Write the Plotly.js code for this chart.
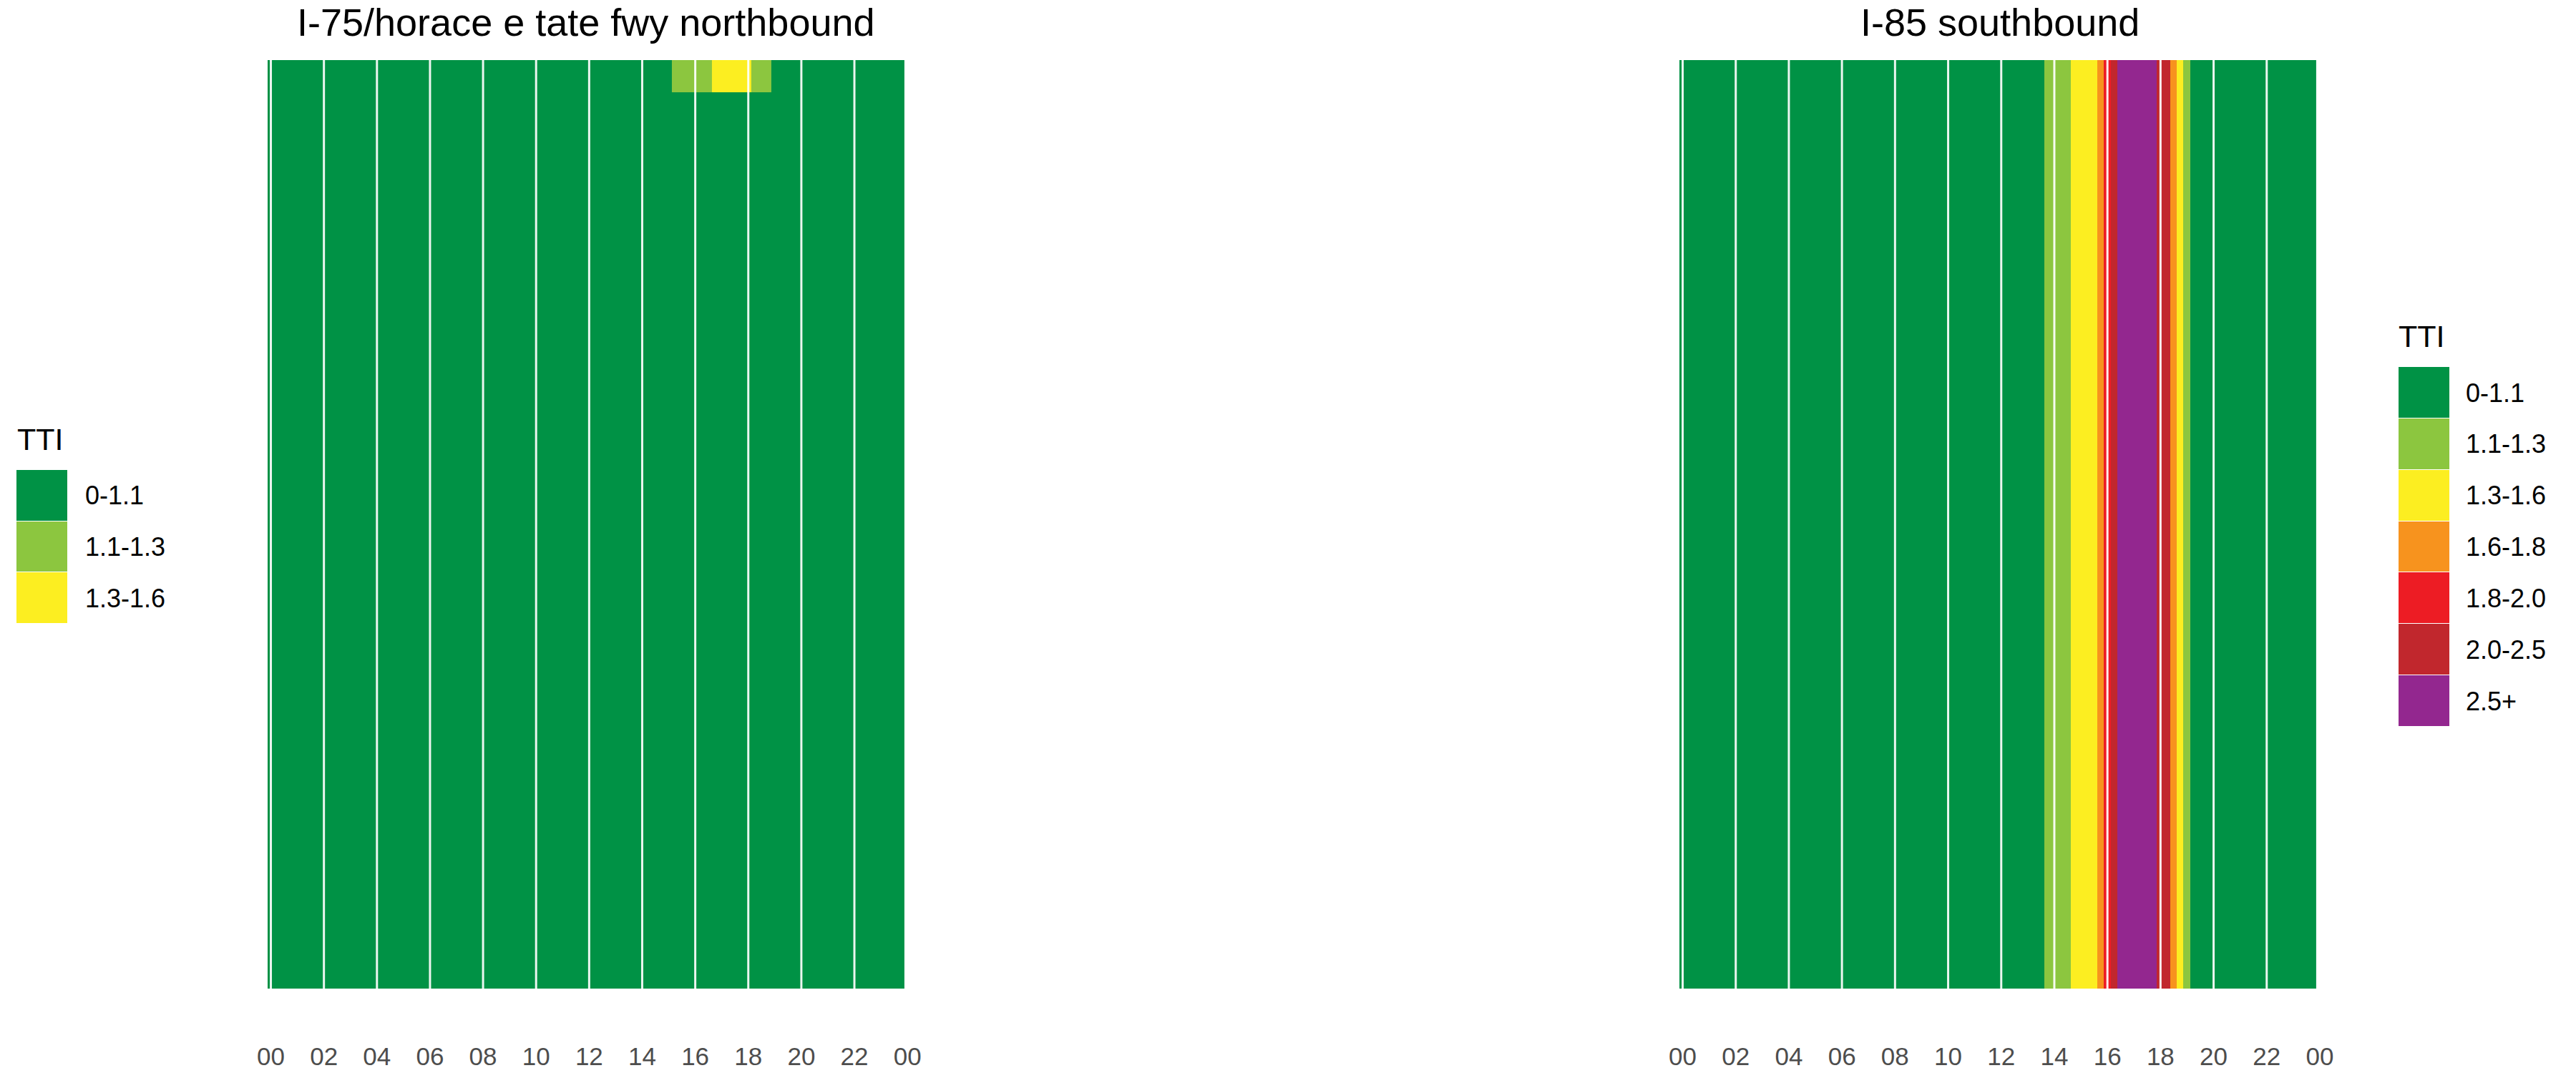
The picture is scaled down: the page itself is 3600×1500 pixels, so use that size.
<!DOCTYPE html>
<html>
<head>
<meta charset="utf-8">
<script src="https://cdn.plot.ly/plotly-3.0.1.min.js"></script>
<style>html,body{margin:0;padding:0;background:#fff;}#chart{width:3600px;height:1500px;}</style>
</head>
<body>
<div id="chart"></div>
<script>
// ---------- DATA ----------
const panelTitles = ["I-75/horace e tate fwy northbound", "I-85 southbound"];
const legendTitle = "TTI";
const levelLabels = ["0-1.1", "1.1-1.3", "1.3-1.6", "1.6-1.8", "1.8-2.0", "2.0-2.5", "2.5+"];
const levelColors = ["#009245", "#8CC63F", "#FCEE21", "#F7931E", "#ED1C24", "#C1272D", "#93278F"];

// 15-minute time bins (tile centres)
const timeBins = [
 "00:00","00:15","00:30","00:45","01:00","01:15","01:30","01:45",
 "02:00","02:15","02:30","02:45","03:00","03:15","03:30","03:45",
 "04:00","04:15","04:30","04:45","05:00","05:15","05:30","05:45",
 "06:00","06:15","06:30","06:45","07:00","07:15","07:30","07:45",
 "08:00","08:15","08:30","08:45","09:00","09:15","09:30","09:45",
 "10:00","10:15","10:30","10:45","11:00","11:15","11:30","11:45",
 "12:00","12:15","12:30","12:45","13:00","13:15","13:30","13:45",
 "14:00","14:15","14:30","14:45","15:00","15:15","15:30","15:45",
 "16:00","16:15","16:30","16:45","17:00","17:15","17:30","17:45",
 "18:00","18:15","18:30","18:45","19:00","19:15","19:30","19:45",
 "20:00","20:15","20:30","20:45","21:00","21:15","21:30","21:45",
 "22:00","22:15","22:30","22:45","23:00","23:15","23:30","23:45"
];

// Tick labels along the time axis
const tickHours  = [0, 2, 4, 6, 8, 10, 12, 14, 16, 18, 20, 22, 24];
const tickLabels = ["00","02","04","06","08","10","12","14","16","18","20","22","00"];

// TTI level index per time bin (index into levelLabels)
// I-75 northbound: segment rows (edges) – lower block and top segment
const nbRowEdges = [0, 28, 29];
const nbLowerRows = [
 0,0,0,0, 0,0,0,0, 0,0,0,0, 0,0,0,0, 0,0,0,0, 0,0,0,0,
 0,0,0,0, 0,0,0,0, 0,0,0,0, 0,0,0,0, 0,0,0,0, 0,0,0,0,
 0,0,0,0, 0,0,0,0, 0,0,0,0, 0,0,0,0, 0,0,0,0, 0,0,0,0,
 0,0,0,0, 0,0,0,0, 0,0,0,0, 0,0,0,0, 0,0,0,0, 0,0,0,0
];
const nbTopRow = [
 0,0,0,0, 0,0,0,0, 0,0,0,0, 0,0,0,0, 0,0,0,0, 0,0,0,0,
 0,0,0,0, 0,0,0,0, 0,0,0,0, 0,0,0,0, 0,0,0,0, 0,0,0,0,
 0,0,0,0, 0,0,0,0, 0,0,0,0, 0,1,1,1, 1,1,1,2, 2,2,2,2,
 2,1,1,1, 0,0,0,0, 0,0,0,0, 0,0,0,0, 0,0,0,0, 0,0,0,0
];
// I-85 southbound: single row
const sbRowEdges = [0, 1];
const sbRow = [
 0,0,0,0, 0,0,0,0, 0,0,0,0, 0,0,0,0, 0,0,0,0, 0,0,0,0,
 0,0,0,0, 0,0,0,0, 0,0,0,0, 0,0,0,0, 0,0,0,0, 0,0,0,0,
 0,0,0,0, 0,0,0,1, 1,1,1,2, 2,2,2,3, 4,5,6,6, 6,6,6,6,
 5,5,3,2, 1,0,0,0, 0,0,0,0, 0,0,0,0, 0,0,0,0, 0,0,0,0
];

// ---------- BUILD ----------
const hours = timeBins.map(t => { const p = t.split(":"); return +p[0] + (+p[1]) / 60; });
const nLev = levelColors.length;
const colorscale = [];
levelColors.forEach((c, i) => { colorscale.push([i / nLev, c]); colorscale.push([(i + 1) / nLev, c]); });

const FONT = "Liberation Sans, Arial, Helvetica, sans-serif";

const base = { type: "heatmap", colorscale: colorscale, zmin: -0.5, zmax: nLev - 0.5,
  showscale: false, hoverinfo: "skip", zsmooth: false };

const traces = [
  Object.assign({}, base, { x: hours, y: nbRowEdges, z: [nbLowerRows, nbTopRow], xaxis: "x", yaxis: "y" }),
  Object.assign({}, base, { x: hours, y: sbRowEdges, z: [sbRow], xaxis: "x2", yaxis: "y2" })
];

// legends as key heatmaps (levels present in each panel)
function present(rows) { const s = new Set(); rows.forEach(r => r.forEach(v => s.add(v))); return [...s].sort((a, b) => a - b); }
const nbLevels = present([nbLowerRows, nbTopRow]);
const sbLevels = present([sbRow]);
traces.push(Object.assign({}, base, { x: [0], y: nbLevels.map(l => levelLabels[l]), z: nbLevels.map(l => [l]), ygap: 1, xaxis: "x3", yaxis: "y3" }));
traces.push(Object.assign({}, base, { x: [0], y: sbLevels.map(l => levelLabels[l]), z: sbLevels.map(l => [l]), ygap: 1, xaxis: "x4", yaxis: "y4" }));

const W = 3600, H = 1500;
const px = (a, b) => [a / W, b / W];
const py = (top, bottom) => [(H - bottom) / H, (H - top) / H];

const timeAxis = (dom, anchor) => ({
  domain: dom, anchor: anchor, range: [-0.125, 24.02], tickmode: "array", tickvals: tickHours, ticktext: tickLabels,
  showgrid: false, zeroline: false, showline: false, ticks: "", ticklabelstandoff: 71,
  tickfont: { family: FONT, size: 35, color: "#4D4D4D" }, fixedrange: true
});
const hidden = (dom, anchor, extra) => Object.assign({ domain: dom, anchor: anchor, showgrid: false, zeroline: false,
  showline: false, showticklabels: false, ticks: "", fixedrange: true }, extra || {});
const keyAxis = (dom, anchor, labels, standoff) => ({
  domain: dom, anchor: anchor, type: "category", categoryorder: "array", categoryarray: labels, autorange: "reversed",
  side: "right", showgrid: false, zeroline: false, showline: false, ticks: "", ticklabelstandoff: standoff,
  tickfont: { family: FONT, size: 36, color: "#000000" }, fixedrange: true
});

const plotY = py(84, 1382);
const titleFont = { family: FONT, size: 54, color: "#000000" };
const layout = {
  width: W, height: H, margin: { l: 0, r: 0, t: 0, b: 0 },
  paper_bgcolor: "#ffffff", plot_bgcolor: "#ffffff", showlegend: false,
  font: { family: FONT },
  xaxis: timeAxis(px(373.9, 1268.9), "y"),
  yaxis: hidden(plotY, "x", { range: [0, 29] }),
  xaxis2: timeAxis(px(2346.9, 3242.7), "y2"),
  yaxis2: hidden(plotY, "x2", { range: [0, 1] }),
  xaxis3: hidden(px(23, 94), "y3", { range: [-0.5, 0.5] }),
  yaxis3: keyAxis(py(657, 872), "x3", nbLevels.map(l => levelLabels[l]), 24),
  xaxis4: hidden(px(3352, 3423), "y4", { range: [-0.5, 0.5] }),
  yaxis4: keyAxis(py(513, 1016), "x4", sbLevels.map(l => levelLabels[l]), 22),
  shapes: [],
  annotations: [
    { text: panelTitles[0], xref: "x domain", yref: "paper", x: 0.497, y: 1, xanchor: "center", yanchor: "top",
      borderpad: 0, showarrow: false, font: titleFont },
    { text: panelTitles[1], xref: "x2 domain", yref: "paper", x: 0.5, y: 1, xanchor: "center", yanchor: "top",
      borderpad: 0, showarrow: false, font: titleFont },
    { text: legendTitle, xref: "paper", yref: "paper", x: 22 / W, y: (H - 614) / H, xanchor: "left", yanchor: "middle",
      showarrow: false, font: { family: FONT, size: 43, color: "#000000" } },
    { text: legendTitle, xref: "paper", yref: "paper", x: 3350 / W, y: (H - 470) / H, xanchor: "left", yanchor: "middle",
      showarrow: false, font: { family: FONT, size: 43, color: "#000000" } }
  ]
};

// white separators at every tick hour inside the data range
[["x", "y"], ["x2", "y2"]].forEach(([xa, ya]) => {
  tickHours.filter(h => h < 24).forEach(h => {
    layout.shapes.push({ type: "line", xref: xa, yref: ya + " domain", x0: h, x1: h, y0: 0, y1: 1,
      line: { color: "rgba(255,255,255,0.92)", width: 3 }, layer: "above" });
  });
});

Plotly.newPlot("chart", traces, layout, { displayModeBar: false, staticPlot: true });
</script>
</body>
</html>
